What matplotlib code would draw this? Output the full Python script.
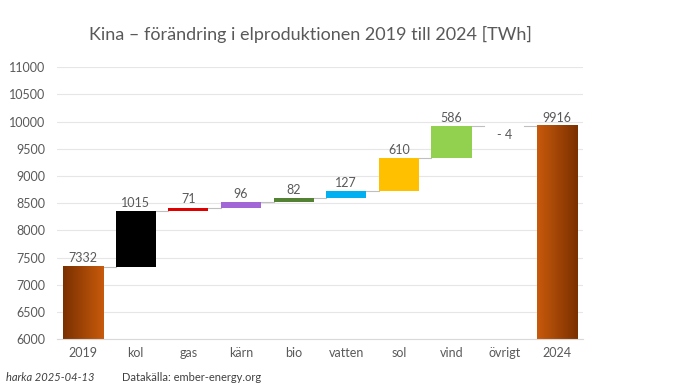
import numpy as np
import matplotlib
matplotlib.use("Agg")
import matplotlib.pyplot as plt
from matplotlib.colors import LinearSegmentedColormap

plt.rcParams['font.family'] = ['Lato', 'DejaVu Sans']

categories = ["2019", "kol", "gas", "kärn", "bio", "vatten", "sol", "vind", "övrigt", "2024"]
start_value = 7332
changes = [1015, 71, 96, 82, 127, 610, 586, -4]
end_value = 9916
labels = ["7332", "1015", "71", "96", "82", "127", "610", "586", "- 4", "9916"]
change_colors = ["#000000", "#e00000", "#a366d6", "#548235", "#00b0f0", "#ffc000", "#92d050", "#a6a6a6"]

title = "Kina – förändring i elproduktionen 2019 till 2024 [TWh]"
yticks = list(range(6000, 11001, 500))

txt = "#595959"
fig = plt.figure(figsize=(7, 3.88), dpi=100)
ax = fig.add_axes([0.081, 0.126, 0.752, 0.701])

x = np.arange(len(categories))
w = 0.76

# total bars
cmap_l = LinearSegmentedColormap.from_list("l", ["#7a3000", "#c85a0c"])
cmap_r = LinearSegmentedColormap.from_list("r", ["#c85a0c", "#7a3000"])
grad = np.linspace(0, 1, 256).reshape(1, -1)
tb = ax.bar([x[0], x[-1]], [start_value, end_value], width=w, color="none", zorder=2)
for patch, cm in zip(tb.patches, [cmap_l, cmap_r]):
    x0 = patch.get_x(); x1 = x0 + patch.get_width()
    ax.imshow(grad, cmap=cm, aspect="auto", extent=[x0, x1, 6000, patch.get_height()], zorder=2)

# change bars
cum = start_value
for i, (c, col) in enumerate(zip(changes, change_colors)):
    bottom = cum if c >= 0 else cum + c
    ax.bar(x[i + 1], abs(c), bottom=bottom, width=w, color=col, zorder=2)
    cum += c

# connectors
levels = [start_value]
cum = start_value
for c in changes:
    cum += c
    levels.append(cum)
for i in range(len(categories) - 1):
    ax.plot([x[i] + w / 2, x[i + 1] - w / 2], [levels[i], levels[i]], color="#bfbfbf", lw=0.8, zorder=1)

# labels
cum = start_value
ax.text(x[0], start_value + 40, labels[0], ha="center", va="bottom", fontsize=9, color=txt)
for i, c in enumerate(changes):
    top = max(cum, cum + c)
    if c >= 0:
        ax.text(x[i + 1], top + 40, labels[i + 1], ha="center", va="bottom", fontsize=9, color=txt)
    else:
        ax.text(x[i + 1], min(cum, cum + c) - 60, labels[i + 1], ha="center", va="top", fontsize=9, color=txt)
    cum += c
ax.text(x[-1], end_value + 40, labels[-1], ha="center", va="bottom", fontsize=9, color=txt)

ax.set_xlim(-0.5, len(categories) - 0.5)
ax.set_ylim(6000, 11000)
ax.set_yticks(yticks)
ax.set_xticks(x)
ax.set_xticklabels(categories)
ax.tick_params(axis="both", length=0, labelsize=9, colors=txt)
ax.tick_params(axis="y", pad=8)
ax.tick_params(axis="x", pad=6)
ax.grid(axis="y", color="#e6e6e6", lw=0.8, zorder=0)
ax.set_axisbelow(True)
for s in ["top", "right", "left"]:
    ax.spines[s].set_visible(False)
ax.spines["bottom"].set_color("#d9d9d9")

fig.text(0.443, 0.91, title, ha="center", va="center", fontsize=13, color=txt)
fig.text(0.008, 0.012, "harka 2025-04-13", ha="left", va="bottom", fontsize=8, style="italic", color="#404040")
fig.text(0.175, 0.012, "Datakälla: ember-energy.org", ha="left", va="bottom", fontsize=8, color="#404040")

fig.savefig("out.png", dpi=100)
